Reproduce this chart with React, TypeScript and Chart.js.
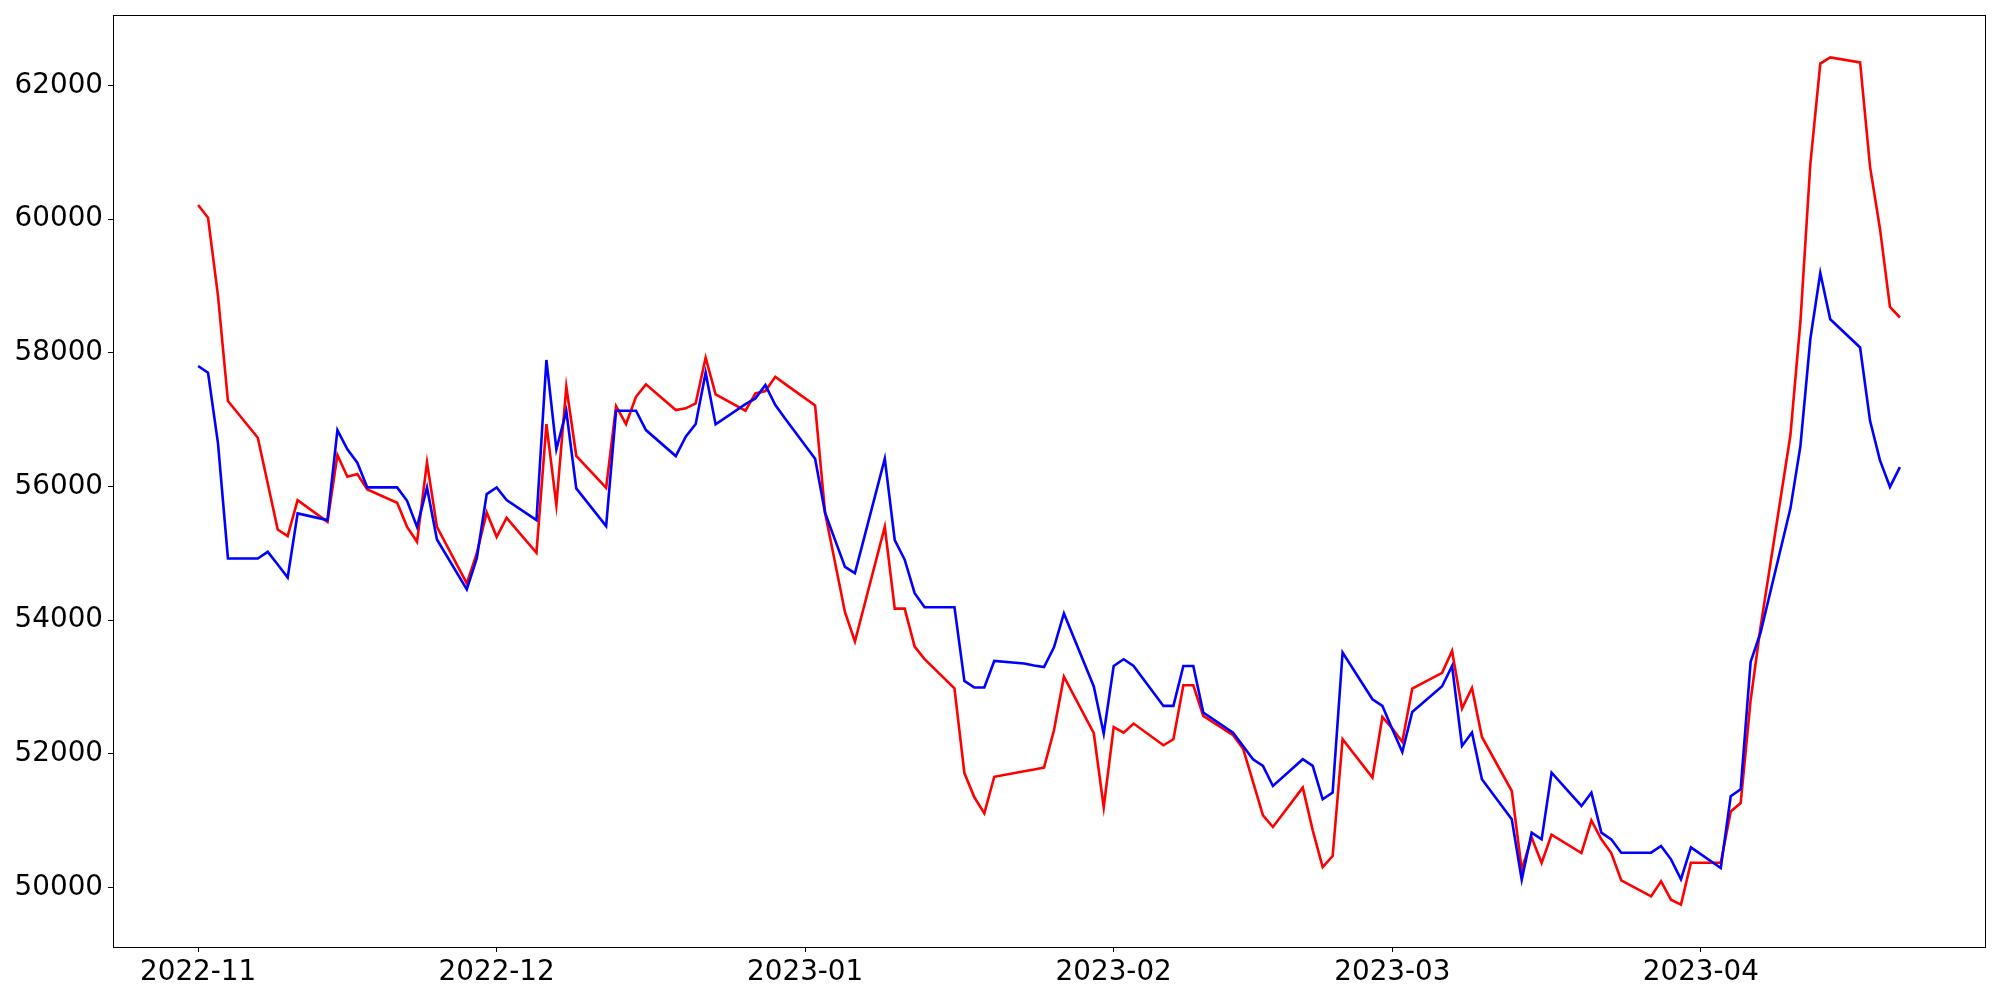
import React, { useEffect, useRef } from "react";
import { Chart, registerables } from "chart.js";

Chart.register(...registerables);

const dates: string[] = [
  "2022-11-01","2022-11-02","2022-11-03","2022-11-04","2022-11-07","2022-11-08","2022-11-09","2022-11-10","2022-11-11",
  "2022-11-14","2022-11-15","2022-11-16","2022-11-17","2022-11-18","2022-11-21","2022-11-22","2022-11-23","2022-11-24",
  "2022-11-25","2022-11-28","2022-11-29","2022-11-30",
  "2022-12-01","2022-12-02","2022-12-05","2022-12-06","2022-12-07","2022-12-08","2022-12-09","2022-12-12","2022-12-13",
  "2022-12-14","2022-12-15","2022-12-16","2022-12-19","2022-12-20","2022-12-21","2022-12-22","2022-12-23","2022-12-26",
  "2022-12-27","2022-12-28","2022-12-29","2022-12-30",
  "2023-01-02","2023-01-03","2023-01-04","2023-01-05","2023-01-06","2023-01-09","2023-01-10","2023-01-11","2023-01-12",
  "2023-01-13","2023-01-16","2023-01-17","2023-01-18","2023-01-19","2023-01-20","2023-01-23","2023-01-24","2023-01-25",
  "2023-01-26","2023-01-27","2023-01-30","2023-01-31",
  "2023-02-01","2023-02-02","2023-02-03","2023-02-06","2023-02-07","2023-02-08","2023-02-09","2023-02-10","2023-02-13",
  "2023-02-14","2023-02-15","2023-02-16","2023-02-17","2023-02-20","2023-02-21","2023-02-22","2023-02-23","2023-02-24",
  "2023-02-27","2023-02-28",
  "2023-03-01","2023-03-02","2023-03-03","2023-03-06","2023-03-07","2023-03-08","2023-03-09","2023-03-10","2023-03-13",
  "2023-03-14","2023-03-15","2023-03-16","2023-03-17","2023-03-20","2023-03-21","2023-03-22","2023-03-23","2023-03-24",
  "2023-03-27","2023-03-28","2023-03-29","2023-03-30","2023-03-31",
  "2023-04-03","2023-04-04","2023-04-05","2023-04-06","2023-04-07","2023-04-10","2023-04-11","2023-04-12","2023-04-13",
  "2023-04-14","2023-04-17","2023-04-18","2023-04-19","2023-04-20","2023-04-21",
];

const redValues: number[] = [
  // Nov
  60210, 60020, 58850, 57277, 56728, 56045, 55356, 55256, 55795,
  55470, 56469, 56144, 56184, 55955, 55755, 55395, 55171, 56359,
  55395, 54548, 54997, 55611,
  // Dec
  55246, 55530, 55006, 56933, 55720, 57491, 56458, 55979, 57202,
  56933, 57341, 57527, 57142, 57168, 57243, 57925, 57377, 57132,
  57392, 57427, 57641, 57530,
  // Jan
  57210, 55605, 54861, 54118, 53680, 55397, 54172, 54172, 53603,
  53417, 52980, 51711, 51349, 51109, 51656, 51738, 51765, 51793,
  52352, 53154, 52307, 51200,
  // Feb
  52400, 52317, 52452, 52127, 52217, 53025, 53025, 52566, 52277,
  52077, 51578, 51079, 50904, 51494, 50855, 50305, 50470, 52217,
  51644, 52551,
  // Mar
  52377, 52177, 52976, 53210, 53539, 52676, 52985, 52251, 51443,
  50266, 50746, 50366, 50790, 50515, 51004, 50720, 50515, 50106,
  49867, 50091, 49817, 49743, 50370,
  // Apr
  50370, 51138, 51263, 52801, 53898, 56769, 58460, 60823, 62326,
  62419, 62343, 60781, 59852, 58687, 58527,
];

const blueValues: number[] = [
  // Nov
  57801, 57701, 56644, 54922, 54922, 55021, 54832, 54638, 55596,
  55496, 56843, 56554, 56354, 55985, 55985, 55785, 55395, 55985,
  55206, 54458, 54922, 55885,
  // Dec
  55985, 55795, 55496, 57891, 56554, 57127, 55970, 55406, 57132,
  57132, 57132, 56843, 56454, 56743, 56933, 57701, 56928, 57232,
  57317, 57516, 57217, 57012,
  // Jan
  56415, 55605, 55200, 54795, 54702, 56415, 55196, 54904, 54403,
  54193, 54193, 53090, 52991, 52991, 53389, 53350, 53320, 53296,
  53593, 54100, 53007, 52300,
  // Feb
  53314, 53415, 53314, 52716, 52716, 53314, 53314, 52617, 52317,
  52117, 51918, 51818, 51518, 51918, 51818, 51319, 51419, 53515,
  52816, 52716,
  // Mar
  52367, 52027, 52626, 53010, 53314, 52117, 52317, 51618, 51019,
  50117, 50820, 50720, 51718, 51219, 51419, 50820, 50720, 50520,
  50520, 50620, 50421, 50121, 50600,
  // Apr
  50290, 51365, 51467, 53374, 53814, 55672, 56600, 58205, 59193,
  58501, 58079, 56981, 56389, 55992, 56289,
];

const yTickValues: number[] = [50000, 52000, 54000, 56000, 58000, 60000, 62000];
const xTickLabels: string[] = ["2022-11", "2022-12", "2023-01", "2023-02", "2023-03", "2023-04"];

const DAY_MS = 86400000;
const ORIGIN = Date.UTC(2022, 10, 1);
const toDay = (s: string): number => {
  const [y, m, d] = s.split("-").map(Number);
  return (Date.UTC(y, m - 1, d || 1) - ORIGIN) / DAY_MS;
};

const framePlugin = {
  id: "frame",
  afterDraw(chart: any) {
    const { ctx, chartArea: a } = chart;
    ctx.save();
    ctx.strokeStyle = "#000";
    ctx.lineWidth = 1;
    ctx.strokeRect(Math.round(a.left) + 0.5, Math.round(a.top) + 0.5, Math.round(a.right - a.left), Math.round(a.bottom - a.top));
    ctx.restore();
  },
};

export default function App() {
  const ref = useRef<HTMLCanvasElement | null>(null);

  useEffect(() => {
    if (!ref.current) return;
    const xs = dates.map(toDay);
    const allY = [...redValues, ...blueValues];
    const yMinD = Math.min(...allY);
    const yMaxD = Math.max(...allY);
    const yPad = (yMaxD - yMinD) * 0.05;
    const xMinD = xs[0];
    const xMaxD = xs[xs.length - 1];
    const xPad = (xMaxD - xMinD) * 0.05;
    const xTickValues = xTickLabels.map((l) => toDay(l + "-01"));
    const font = { family: "'DejaVu Sans', sans-serif", size: 27.8 };

    const chart = new Chart(ref.current, {
      type: "line",
      data: {
        datasets: [
          {
            label: "blue",
            data: xs.map((x, i) => ({ x, y: blueValues[i] })),
            borderColor: "#0000ff",
            backgroundColor: "#0000ff",
            borderWidth: 2.6,
            pointRadius: 0,
            tension: 0,
            fill: false,
          },
          {
            label: "red",
            data: xs.map((x, i) => ({ x, y: redValues[i] })),
            borderColor: "#ff0000",
            backgroundColor: "#ff0000",
            borderWidth: 2.6,
            pointRadius: 0,
            tension: 0,
            fill: false,
          },
        ],
      },
      options: {
        animation: false,
        responsive: false,
        devicePixelRatio: 1,
        layout: { padding: { top: 15, right: 15, left: 0, bottom: 0 } },
        plugins: { legend: { display: false }, tooltip: { enabled: false } },
        scales: {
          x: {
            type: "linear",
            min: xMinD - xPad,
            max: xMaxD + xPad,
            afterFit: (s: any) => {
              s.height = 53;
              s.paddingLeft = 0;
              s.paddingRight = 0;
            },
            afterBuildTicks: (s: any) => {
              s.ticks = xTickValues.map((v) => ({ value: v }));
            },
            ticks: {
              autoSkip: false,
              maxRotation: 0,
              color: "#000",
              font,
              padding: 4,
              callback: (v: any) => {
                const i = xTickValues.indexOf(Number(v));
                return i >= 0 ? xTickLabels[i] : "";
              },
            },
            grid: { drawOnChartArea: false, drawTicks: true, tickLength: 5, color: "#000", lineWidth: 1 },
            border: { display: false },
          },
          y: {
            type: "linear",
            min: yMinD - yPad,
            max: yMaxD + yPad,
            afterFit: (s: any) => {
              s.width = 113;
              s.paddingTop = 0;
              s.paddingBottom = 0;
            },
            afterBuildTicks: (s: any) => {
              s.ticks = yTickValues.map((v) => ({ value: v }));
            },
            ticks: {
              color: "#000",
              font,
              padding: 5,
              callback: (v: any) => String(v),
            },
            grid: { drawOnChartArea: false, drawTicks: true, tickLength: 5, color: "#000", lineWidth: 1 },
            border: { display: false },
          },
        },
      },
      plugins: [framePlugin],
    } as any);

    return () => chart.destroy();
  }, []);

  return (
    <div style={{ position: "fixed", left: 0, top: 0, width: 2000, height: 1000, background: "#fff" }}>
      <canvas ref={ref} width={2000} height={1000} style={{ display: "block", width: 2000, height: 1000 }} />
    </div>
  );
}
